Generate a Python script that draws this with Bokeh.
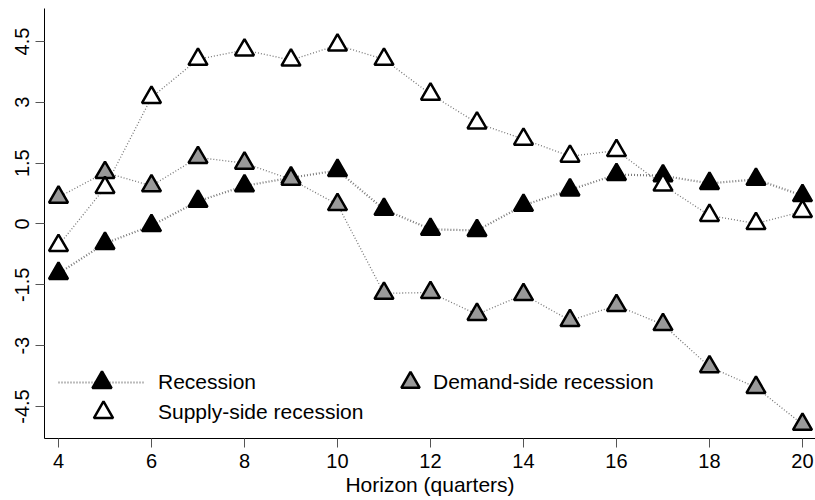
from bokeh.plotting import figure
from bokeh.models import Legend, LegendItem, Range1d, FixedTicker
from bokeh.embed import file_html
from bokeh.resources import INLINE

horizon = list(range(4, 21))
recession = [-1.22, -0.48, -0.04, 0.56, 0.94, 1.14, 1.32, 0.36, -0.13, -0.16,
             0.46, 0.84, 1.22, 1.19, 1.00, 1.10, 0.70]
supply = [-0.53, 0.90, 3.12, 4.06, 4.29, 4.04, 4.41, 4.06, 3.20, 2.49,
          2.09, 1.67, 1.81, 0.96, 0.21, 0.01, 0.31]
demand = [0.66, 1.27, 0.94, 1.64, 1.50, 1.10, 0.48, -1.71, -1.69, -2.23,
          -1.74, -2.38, -2.01, -2.48, -3.52, -4.03, -4.94]

x_ticks = [4, 6, 8, 10, 12, 14, 16, 18, 20]
y_ticks = [-4.5, -3, -1.5, 0, 1.5, 3, 4.5]
y_tick_labels = ["-4.5", "-3", "-1.5", "0", "1.5", "3", "4.5"]

FONT = "Liberation Sans"

p = figure(width=815, height=500, output_backend="svg", toolbar_location=None,
           x_range=Range1d(3.699, 20.28), y_range=Range1d(-5.289, 5.313),
           min_border_left=44, min_border_right=0, min_border_top=8,
           min_border_bottom=62)
p.grid.visible = False
p.outline_line_color = None
p.background_fill_color = "white"

for ax in (p.xaxis[0], p.yaxis[0]):
    ax.axis_line_color = "black"
    ax.axis_line_width = 1
    ax.major_tick_line_color = "#555555"
    ax.major_tick_line_width = 1
    ax.major_tick_out = 9
    ax.major_tick_in = 0
    ax.minor_tick_line_color = None
    ax.major_label_text_font = FONT
    ax.major_label_text_font_size = "20px"
    ax.major_label_text_color = "black"

p.xaxis.ticker = FixedTicker(ticks=x_ticks)
p.xaxis.major_label_standoff = 6
p.xaxis.axis_label = "Horizon (quarters)"
p.xaxis.axis_label_text_font = FONT
p.xaxis.axis_label_text_font_size = "21px"
p.xaxis.axis_label_text_font_style = "normal"
p.xaxis.axis_label_text_color = "black"
p.xaxis.axis_label_standoff = 2

p.yaxis.ticker = FixedTicker(ticks=y_ticks)
p.yaxis.major_label_overrides = {t: l for t, l in zip(y_ticks, y_tick_labels)}
p.yaxis.major_label_orientation = "vertical"
p.yaxis.major_label_standoff = 6

l_rec = p.line(horizon, recession, line_color="#7a7a7a", line_width=2.2, line_dash="1 2")
l_sup = p.line(horizon, supply, line_color="#777777", line_width=1.3, line_dash="1 2")
l_dem = p.line(horizon, demand, line_color="#777777", line_width=1.3, line_dash="1 2")

s_rec = p.scatter(horizon, recession, marker="triangle", size=19,
                  fill_color="black", line_color="black", line_width=2.5)
s_dem = p.scatter(horizon, demand, marker="triangle", size=19,
                  fill_color="#999999", line_color="black", line_width=2.5)
s_sup = p.scatter(horizon, supply, marker="triangle", size=19,
                  fill_color="white", line_color="black", line_width=2.5)

common = dict(padding=0, margin=0, border_line_alpha=0, background_fill_alpha=0,
              label_text_font=FONT, label_text_font_size="21px",
              label_text_color="black", glyph_height=48)

leg_rec = Legend(items=[LegendItem(label="Recession", renderers=[l_rec, s_rec])],
                 location=(14, 32), glyph_width=87, label_standoff=13, **common)
leg_sup = Legend(items=[LegendItem(label="Supply-side recession", renderers=[s_sup])],
                 location=(35, 2), glyph_width=48, label_standoff=31, **common)
leg_dem = Legend(items=[LegendItem(label="Demand-side recession", renderers=[s_dem])],
                 location=(343, 32), glyph_width=46, label_standoff=0, **common)
p.add_layout(leg_rec)
p.add_layout(leg_sup)
p.add_layout(leg_dem)

open("out.html", "w").write(file_html(p, INLINE))
